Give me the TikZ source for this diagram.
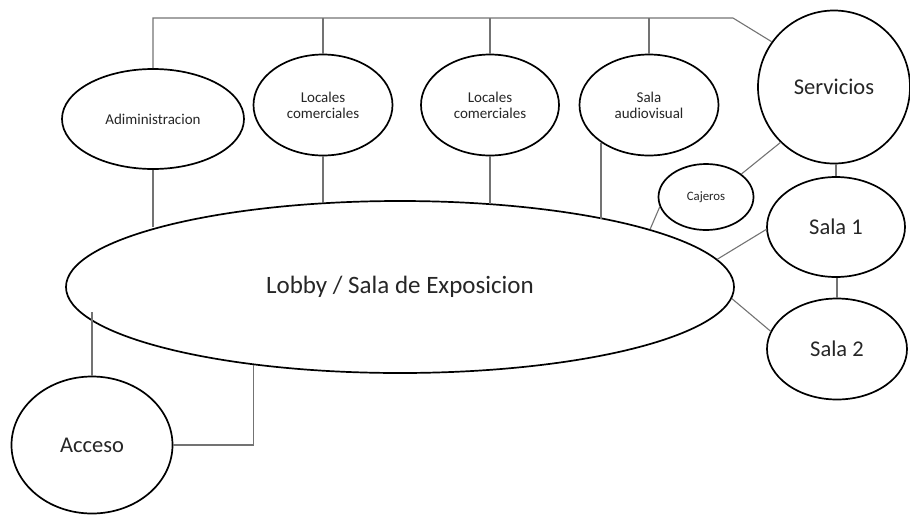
\documentclass[tikz,border=0pt]{standalone}
\usepackage{fontspec}
\setmainfont{Carlito}
\usetikzlibrary{shapes.geometric}
\begin{document}
\begin{tikzpicture}[x=1pt,y=-1pt,
  bub/.style={ellipse, draw=black, line width=1.7pt, fill=white, inner sep=0pt, text=black!85, align=center},
  con/.style={draw=black!55, line width=1.1pt},
  big/.style={font=\fontsize{22.5}{24}\selectfont},
  small/.style={font=\fontsize{15}{16}\selectfont}]
\useasboundingbox (0,0) rectangle (910,515);
% nodes
\node[bub, minimum width=668pt, minimum height=172pt, font=\fontsize{25}{27}\selectfont] (lobby) at (400,287) {Lobby / Sala de Exposicion};
\node[bub, small, minimum width=182pt, minimum height=100pt] (adm) at (153,119) {Adiministracion};
\node[bub, small, minimum width=139pt, minimum height=101pt] (loc1) at (323,105) {Locales\\comerciales};
\node[bub, small, minimum width=138pt, minimum height=101pt] (loc2) at (490,105) {Locales\\comerciales};
\node[bub, small, minimum width=139pt, minimum height=101pt] (av) at (649,105) {Sala\\audiovisual};
\node[bub, big, minimum width=152pt, minimum height=153pt] (serv) at (834,87) {Servicios};
\node[bub, minimum width=95pt, minimum height=66pt, font=\fontsize{12.8}{14}\selectfont] (caj) at (706,197) {Cajeros};
\node[bub, big, minimum width=138pt, minimum height=100pt] (s1) at (836,227) {Sala 1};
\node[bub, big, minimum width=140pt, minimum height=101pt] (s2) at (837,349) {Sala 2};
\node[bub, big, minimum width=161pt, minimum height=137pt] (acc) at (92,445) {Acceso};
\coordinate (bk) at (733,18);
% top bus
\draw[con] (adm.north) -- (adm.north |- bk) -- (bk) -- (serv.144);
\draw[con] (loc1.north) -- (loc1.north |- bk);
\draw[con] (loc2.north) -- (loc2.north |- bk);
\draw[con] (av.north) -- (av.north |- bk);
% to lobby
\draw[con] (adm.south) -- (adm.south |- lobby.166.8);
\draw[con] (loc1.south) -- (loc1.south |- lobby.132.6);
\draw[con] (loc2.south) -- (loc2.south |- lobby.42.6);
\draw[con] (av.218.4) -- (av.218.4 |- lobby.18.9);
\draw[con] (caj.192) -- (lobby.13);
\draw[con] (serv.226) -- (caj.33.7);
\draw[con] (s1.north) -- (s1.north |- serv.south);
\draw[con] (s1.182) -- (lobby.5.9);
\draw[con] (s2.north) -- (s2.north |- s1.south);
\draw[con] (lobby.-2.3) -- (s2.165);
\draw[con, shorten >=-8pt] (acc.north) -- (acc.north |- lobby.186.1);
\draw[con] (acc.east) -| (lobby.208.1);
\end{tikzpicture}
\end{document}
